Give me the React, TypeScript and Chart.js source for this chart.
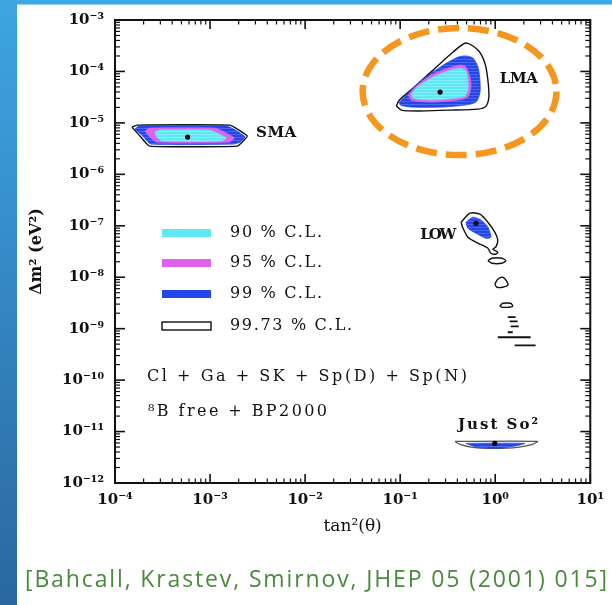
import React, { useEffect, useRef } from 'react';
import { Chart, registerables } from 'chart.js';

Chart.register(...registerables);

type P = [number, number];

// ---- axes ----
const X_MIN = 1e-4;
const X_MAX = 10;
const Y_MIN = 1e-12;
const Y_MAX = 1e-3;
const X_DECADES = [-4, -3, -2, -1, 0, 1];
const Y_DECADES = [-12, -11, -10, -9, -8, -7, -6, -5, -4, -3];
const MANTISSAS = [1, 2, 3, 4, 5, 6, 7, 8, 9];
const X_TITLE = 'tan²(θ)';
const Y_TITLE = 'Δm² (eV²)';

// ---- SMA contours (tan²θ, Δm²) ----
const SMA_9973: P[] = [[1.51e-4, 8.28e-6], [1.70e-4, 9.06e-6], [1.60e-3, 9.06e-6], [1.94e-3, 7.57e-6], [2.46e-3, 5.54e-6], [2.23e-3, 4.43e-6], [1.94e-3, 3.54e-6], [2.32e-4, 3.54e-6], [1.87e-4, 5.30e-6]];
const SMA_99: P[] = [[1.62e-4, 7.57e-6], [1.78e-4, 8.67e-6], [1.49e-3, 8.67e-6], [1.85e-3, 7.24e-6], [2.34e-3, 5.30e-6], [2.08e-3, 4.23e-6], [1.76e-3, 3.87e-6], [2.38e-4, 3.87e-6], [1.96e-4, 5.54e-6]];
const SMA_95: P[] = [[2.06e-4, 6.92e-6], [2.32e-4, 7.92e-6], [1.11e-3, 7.92e-6], [1.42e-3, 6.62e-6], [1.80e-3, 5.06e-6], [1.60e-3, 4.23e-6], [2.75e-4, 4.23e-6], [2.32e-4, 5.30e-6]];
const SMA_90: P[] = [[2.62e-4, 6.62e-6], [2.96e-4, 7.24e-6], [9.87e-4, 7.24e-6], [1.19e-3, 6.33e-6], [1.49e-3, 5.06e-6], [1.32e-3, 4.43e-6], [3.10e-4, 4.43e-6], [2.75e-4, 5.30e-6]];

// ---- LMA contours ----
const LMA_9973: P[] = [[0.0912, 2.12e-5], [0.0982, 2.78e-5], [0.137, 4.75e-5], [0.222, 1.06e-4], [0.360, 2.38e-4], [0.492, 3.57e-4], [0.658, 2.61e-4], [0.778, 1.46e-4], [0.837, 6.81e-5], [0.857, 3.18e-5], [0.798, 2.12e-5], [0.658, 1.85e-5], [0.319, 1.77e-5], [0.155, 1.70e-5], [0.103, 1.77e-5]];
const LMA_99: P[] = [[0.0982, 2.54e-5], [0.165, 6.5e-5], [0.270, 1.25e-4], [0.406, 1.90e-4], [0.492, 2.00e-4], [0.583, 1.82e-4], [0.658, 1.22e-4], [0.690, 6.81e-5], [0.690, 3.80e-5], [0.627, 2.54e-5], [0.481, 2.22e-5], [0.270, 2.03e-5], [0.131, 2.03e-5], [0.1005, 2.22e-5]];
const LMA_95: P[] = [[0.122, 3.47e-5], [0.144, 4.97e-5], [0.212, 8.51e-5], [0.319, 1.16e-4], [0.437, 1.33e-4], [0.492, 1.22e-4], [0.542, 7.78e-5], [0.556, 4.97e-5], [0.516, 3.18e-5], [0.406, 2.78e-5], [0.212, 2.54e-5], [0.131, 2.78e-5]];
const LMA_90: P[] = [[0.131, 3.63e-5], [0.151, 4.97e-5], [0.222, 7.78e-5], [0.319, 1.02e-4], [0.426, 1.16e-4], [0.492, 1.02e-4], [0.516, 6.81e-5], [0.516, 4.35e-5], [0.481, 3.32e-5], [0.387, 3.03e-5], [0.212, 2.78e-5], [0.137, 3.03e-5]];

// ---- LOW contours ----
const LOW_9973: P[] = [[0.437, 1.17e-7], [0.542, 1.76e-7], [0.690, 1.68e-7], [0.837, 1.17e-7], [0.990, 7.50e-8], [1.064, 5.25e-8], [1.014, 3.84e-8], [0.944, 3.51e-8], [1.064, 3.06e-8], [1.014, 2.80e-8], [0.900, 2.93e-8], [0.837, 3.66e-8], [0.658, 4.58e-8], [0.516, 6.00e-8], [0.458, 8.98e-8]];
const LOW_99: P[] = [[0.492, 1.17e-7], [0.583, 1.47e-7], [0.707, 1.29e-7], [0.837, 9.40e-8], [0.900, 6.00e-8], [0.798, 5.74e-8], [0.627, 7.18e-8], [0.516, 8.98e-8]];
const LOW_ISLAND_A: P[] = [[0.837, 2.10e-8], [0.921, 2.34e-8], [1.172, 2.34e-8], [1.29, 2.10e-8], [1.172, 1.87e-8], [0.921, 1.87e-8]];
const LOW_ISLAND_B: P[] = [[0.990, 7.31e-9], [1.064, 9.14e-9], [1.20, 1.00e-8], [1.32, 8.36e-9], [1.355, 6.99e-9], [1.20, 6.39e-9], [1.04, 6.39e-9]];
const LOW_ISLAND_C: P[] = [[1.117, 2.73e-9], [1.20, 3.12e-9], [1.456, 3.12e-9], [1.53, 2.73e-9], [1.387, 2.61e-9], [1.172, 2.61e-9]];
// thin slivers: [tan²θ from, tan²θ to, Δm²]
const LOW_SLIVERS: [number, number, number][] = [[1.355, 1.64, 1.67e-9], [1.42, 1.72, 1.39e-9], [1.456, 1.77, 1.11e-9], [1.355, 1.53, 8.51e-10], [1.064, 2.36, 6.81e-10], [1.60, 2.66, 4.75e-10]];

// ---- Just So² contours ----
const JUSTSO_9973: P[] = [[0.378, 6.44e-12], [2.79, 6.44e-12], [2.47, 5.63e-12], [1.72, 4.93e-12], [0.990, 4.71e-12], [0.583, 4.93e-12], [0.426, 5.63e-12]];
const JUSTSO_99: P[] = [[0.492, 5.89e-12], [2.04, 5.89e-12], [1.53, 5.15e-12], [0.990, 4.71e-12], [0.658, 4.93e-12]];

// ---- best-fit points ----
const BEST_FIT: P[] = [[5.81e-4, 5.30e-6], [0.263, 3.97e-5], [0.627, 1.12e-7], [0.990, 5.89e-12]];

// ---- labels anchored at data coordinates (left edge, middle) ----
const REGION_LABELS = ['SMA', 'LMA', 'LOW', 'Just So²'];
const REGION_LABEL_AT: P[] = [[3.05e-3, 6.34e-6], [1.117, 7.11e-5], [0.163, 6.56e-8], [0.406, 1.32e-11]];
const REGION_LABEL_WIDTH = [40, 38, 36, 80];

// ---- highlight ellipse around LMA (data bounds) ----
const HIGHLIGHT_X: P = [0.0403, 4.41];
const HIGHLIGHT_Y: P = [2.37e-6, 6.99e-4];

const LEGEND_LABELS = ['90 % C.L.', '95 % C.L.', '99 % C.L.', '99.73 % C.L.'];
const CAPTION_LINES = ['Cl + Ga + SK + Sp(D) + Sp(N)', '⁸B free + BP2000'];
const CITATION = '[Bahcall, Krastev, Smirnov, JHEP 05 (2001) 015]';

// ---- colours ----
const C_CYAN = '#5fe7f3';
const C_MAGENTA = '#e062ea';
const C_BLUE = '#2346ea';
const C_LINE = '#111111';
const C_ORANGE = '#f5961e';
const C_GREEN = '#4a8a3c';

const SUP: Record<string, string> = { '-': '⁻', '0': '⁰', '1': '¹', '2': '²', '3': '³', '4': '⁴', '5': '⁵', '6': '⁶', '7': '⁷', '8': '⁸', '9': '⁹' };
const sup = (n: number) => String(n).split('').map((c) => SUP[c]).join('');
const isDecade = (v: number) => {
  const l = Math.log10(v);
  return Math.abs(l - Math.round(l)) < 1e-6;
};
const decadeLabel = (v: number) => (isDecade(v) ? '10' + sup(Math.round(Math.log10(v))) : '');
const tickValues = (decades: number[]) => {
  const out: number[] = [];
  decades.forEach((e, i) => {
    if (i === decades.length - 1) out.push(Math.pow(10, e));
    else MANTISSAS.forEach((m) => out.push(m * Math.pow(10, e)));
  });
  return out;
};

function stripes(base: string, line: string) {
  const c = document.createElement('canvas');
  c.width = 4;
  c.height = 3;
  const g = c.getContext('2d')!;
  g.fillStyle = base;
  g.fillRect(0, 0, 4, 3);
  g.fillStyle = line;
  g.fillRect(0, 2, 4, 1);
  return g.createPattern(c, 'repeat')!;
}

function fitText(ctx: any, text: string, x: number, y: number, width: number) {
  ctx.letterSpacing = '0px';
  const w0 = ctx.measureText(text).width;
  const ls = (width - w0) / Math.max(1, text.length - 1);
  ctx.letterSpacing = ls.toFixed(2) + 'px';
  ctx.fillText(text, x, y);
  ctx.letterSpacing = '0px';
}

const decorPlugin = {
  id: 'decor',
  beforeDraw(chart: any) {
    const { ctx, width, height } = chart;
    ctx.save();
    ctx.fillStyle = '#ffffff';
    ctx.fillRect(0, 0, width, height);
    ctx.fillStyle = '#3aa8e4';
    ctx.fillRect(0, 0, width, 4.5);
    const g = ctx.createLinearGradient(0, 0, 0, height);
    g.addColorStop(0, '#3ea5e3');
    g.addColorStop(1, '#2a67a0');
    ctx.fillStyle = g;
    ctx.fillRect(0, 0, 17, height);
    ctx.restore();
  },
  afterDraw(chart: any) {
    const { ctx, chartArea } = chart;
    const { left, right, top, bottom } = chartArea;
    const xs = chart.scales.x;
    const ys = chart.scales.y;
    ctx.save();
    ctx.strokeStyle = C_LINE;
    const seg = (x1: number, y1: number, x2: number, y2: number) => {
      ctx.beginPath();
      ctx.moveTo(x1, y1);
      ctx.lineTo(x2, y2);
      ctx.stroke();
    };
    xs.ticks.forEach((t: any) => {
      const px = xs.getPixelForValue(t.value);
      const major = isDecade(t.value);
      const len = major ? 9 : 4.5;
      ctx.lineWidth = major ? 1.6 : 1.2;
      seg(px, bottom, px, bottom - len);
      seg(px, top, px, top + len);
    });
    ys.ticks.forEach((t: any) => {
      const py = ys.getPixelForValue(t.value);
      const major = isDecade(t.value);
      const len = major ? 10 : 5;
      ctx.lineWidth = major ? 1.6 : 1.2;
      seg(left, py, left + len, py);
      seg(right, py, right - len, py);
    });
    ctx.lineWidth = 2;
    ctx.strokeRect(left, top, right - left, bottom - top);

    // region labels
    ctx.fillStyle = C_LINE;
    ctx.textBaseline = 'middle';
    ctx.textAlign = 'left';
    ctx.font = 'bold 15px "DejaVu Serif"';
    REGION_LABELS.forEach((txt, i) => {
      const [x, y] = REGION_LABEL_AT[i];
      fitText(ctx, txt, xs.getPixelForValue(x), ys.getPixelForValue(y), REGION_LABEL_WIDTH[i]);
    });

    // legend
    const legendColors = [C_CYAN, C_MAGENTA, C_BLUE, '#ffffff'];
    const legendY = [213, 243, 274, 306];
    ctx.font = '16px "DejaVu Serif"';
    LEGEND_LABELS.forEach((txt, i) => {
      const cy = top + legendY[i];
      const sx = left + 47;
      ctx.fillStyle = legendColors[i];
      ctx.fillRect(sx, cy - 4, 49, 8);
      if (i === 3) {
        ctx.lineWidth = 1.4;
        ctx.strokeStyle = C_LINE;
        ctx.strokeRect(sx, cy - 4, 49, 8);
      }
      ctx.fillStyle = C_LINE;
      fitText(ctx, txt, left + 115, cy, i === 3 ? 122 : 92);
    });

    // caption lines
    fitText(ctx, CAPTION_LINES[0], left + 32, top + 357, 320);
    fitText(ctx, CAPTION_LINES[1], left + 33, top + 392, 179);

    // dashed highlight ellipse around LMA
    const x1 = xs.getPixelForValue(HIGHLIGHT_X[0]);
    const x2 = xs.getPixelForValue(HIGHLIGHT_X[1]);
    const y1 = ys.getPixelForValue(HIGHLIGHT_Y[1]);
    const y2 = ys.getPixelForValue(HIGHLIGHT_Y[0]);
    ctx.strokeStyle = C_ORANGE;
    ctx.lineWidth = 6.5;
    ctx.setLineDash([21, 9]);
    ctx.beginPath();
    ctx.ellipse((x1 + x2) / 2, (y1 + y2) / 2, (x2 - x1) / 2, (y2 - y1) / 2, 0, 0, Math.PI * 2);
    ctx.stroke();
    ctx.setLineDash([]);

    // citation
    ctx.fillStyle = C_GREEN;
    ctx.font = '23px "Open Sans"';
    fitText(ctx, CITATION, 25, 580, 582);
    ctx.restore();
  },
};

export default function App() {
  const ref = useRef<HTMLCanvasElement | null>(null);

  useEffect(() => {
    document.body.style.margin = '0';
    const canvas = ref.current!;
    const blueFill = stripes(C_BLUE, '#4a68f0');
    const cyanFill = stripes(C_CYAN, '#86eef7');

    const toXY = (pts: P[]) => [...pts, pts[0]].map(([x, y]) => ({ x, y }));
    const region = (pts: P[], bg: any, border: string, bw: number, order: number, tension = 0.25) => ({
      data: toXY(pts),
      showLine: true,
      fill: 'shape',
      backgroundColor: bg,
      borderColor: border,
      borderWidth: bw,
      pointRadius: 0,
      tension,
      order,
    });

    const datasets: any[] = [
      {
        data: BEST_FIT.map(([x, y]) => ({ x, y })),
        showLine: false,
        pointRadius: 2.6,
        pointBackgroundColor: '#000',
        pointBorderWidth: 0,
        order: 0,
      },
      region(SMA_90, cyanFill, C_CYAN, 0.8, 1, 0.15),
      region(LMA_90, cyanFill, C_CYAN, 0.8, 1),
      region(SMA_95, C_MAGENTA, C_MAGENTA, 0.8, 2, 0.15),
      region(LMA_95, C_MAGENTA, C_MAGENTA, 0.8, 2),
      region(SMA_99, blueFill, C_BLUE, 0.8, 3, 0.15),
      region(LMA_99, blueFill, C_BLUE, 0.8, 3),
      region(LOW_99, blueFill, C_BLUE, 0.8, 3),
      region(JUSTSO_99, blueFill, C_BLUE, 0.8, 3, 0.2),
      region(SMA_9973, '#ffffff', C_LINE, 1.4, 4, 0.15),
      region(LMA_9973, '#ffffff', C_LINE, 1.4, 4),
      region(LOW_9973, '#ffffff', C_LINE, 1.4, 4),
      region(LOW_ISLAND_A, '#ffffff', C_LINE, 1.4, 4, 0.3),
      region(LOW_ISLAND_B, '#ffffff', C_LINE, 1.4, 4, 0.3),
      region(LOW_ISLAND_C, '#ffffff', C_LINE, 1.4, 4, 0.2),
      region(JUSTSO_9973, '#ffffff', '#555', 1.2, 4, 0.2),
      ...LOW_SLIVERS.map(([a, b, y]) => ({
        data: [{ x: a, y }, { x: b, y }],
        showLine: true,
        fill: false,
        borderColor: C_LINE,
        borderWidth: 1.8,
        pointRadius: 0,
        order: 4,
      })),
    ];

    const tickFont = { family: 'DejaVu Serif', size: 15, weight: 'bold' as const };
    const chart = new Chart(canvas, {
      type: 'scatter',
      data: { datasets },
      plugins: [decorPlugin],
      options: {
        animation: false,
        responsive: false,
        devicePixelRatio: 1,
        events: [],
        layout: { padding: { top: 20, right: 19, left: 0, bottom: 0 } },
        plugins: { legend: { display: false }, tooltip: { enabled: false } },
        scales: {
          x: {
            type: 'logarithmic',
            min: X_MIN,
            max: X_MAX,
            grid: { display: false, drawTicks: false },
            border: { display: false },
            afterBuildTicks: (s: any) => {
              s.ticks = tickValues(X_DECADES).map((v) => ({ value: v }));
            },
            afterFit: (s: any) => {
              s.height = 122;
            },
            ticks: {
              autoSkip: false,
              maxRotation: 0,
              padding: 8,
              color: C_LINE,
              font: tickFont,
              callback: (v: any) => decadeLabel(Number(v)),
            },
            title: {
              display: true,
              text: X_TITLE,
              color: C_LINE,
              font: { family: 'DejaVu Serif', size: 17 },
              padding: { top: 0, bottom: 68 },
            },
          },
          y: {
            type: 'logarithmic',
            min: Y_MIN,
            max: Y_MAX,
            grid: { display: false, drawTicks: false },
            border: { display: false },
            afterBuildTicks: (s: any) => {
              s.ticks = tickValues(Y_DECADES).map((v) => ({ value: v }));
            },
            afterFit: (s: any) => {
              s.width = 115;
            },
            ticks: {
              autoSkip: false,
              padding: 11,
              color: C_LINE,
              font: tickFont,
              callback: (v: any) => decadeLabel(Number(v)),
            },
            title: {
              display: true,
              text: Y_TITLE,
              color: C_LINE,
              font: { family: 'DejaVu Serif', size: 16, weight: 'bold' },
              padding: { top: 27, bottom: 0 },
            },
          },
        },
      } as any,
    });
    return () => chart.destroy();
  }, []);

  return (
    <div style={{ width: 612, height: 605 }}>
      <canvas ref={ref} width={612} height={605} style={{ display: 'block' }} />
    </div>
  );
}
